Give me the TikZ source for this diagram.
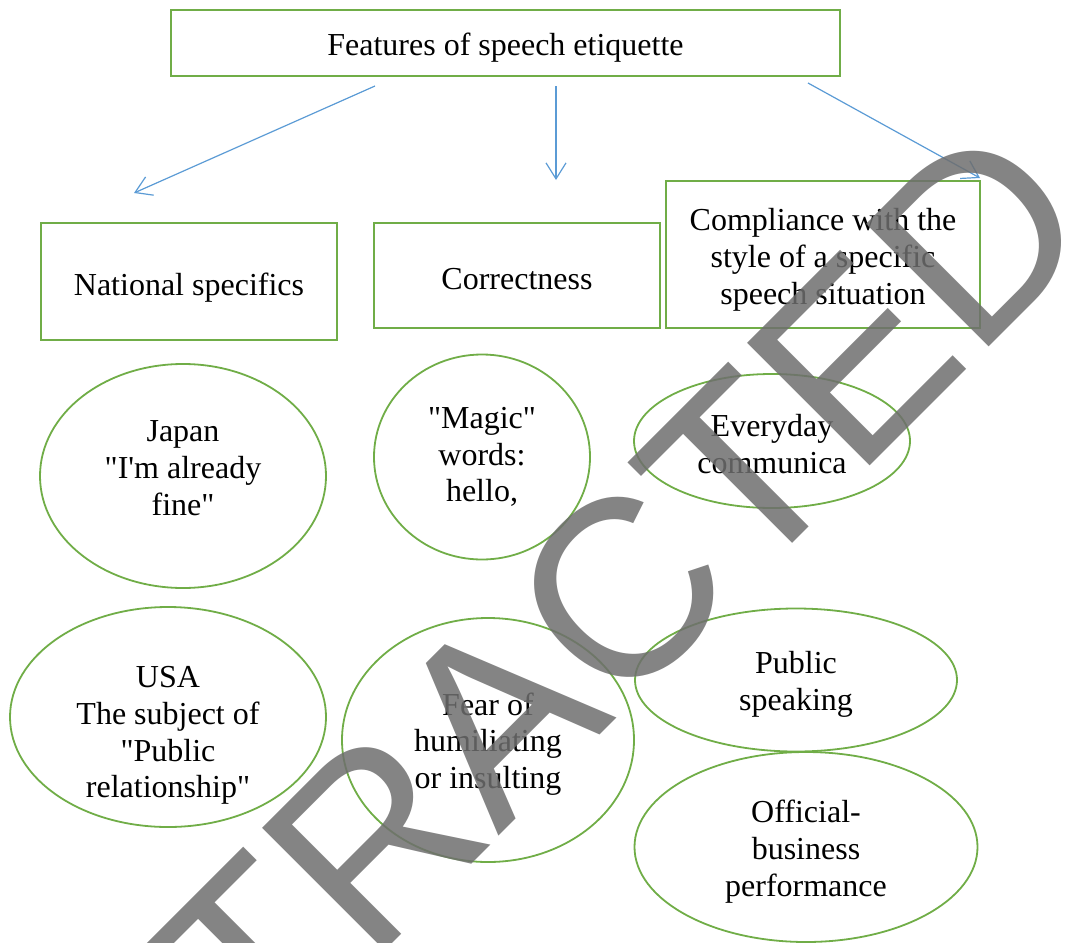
\documentclass[tikz,border=0pt]{standalone}
\usepackage{fontspec}
\usetikzlibrary{shapes.geometric,arrows.meta,positioning}
\newfontfamily\diagfont{Liberation Serif}
\newfontfamily\markfont{Liberation Sans}
\definecolor{leaf}{HTML}{70AD47}
\definecolor{sky}{HTML}{5B9BD5}

\begin{document}
\begin{tikzpicture}[x = 0.5pt, y = -0.5pt,
  box/.style = {draw = leaf, line width = 1.1pt, shape = rectangle},
  oval/.style = {draw = leaf, line width = 0.9pt, shape = ellipse, inner sep = 0pt},
  words/.style = {align = center, inner sep = 0pt, font = \diagfont\fontsize{16}{18.4}\selectfont},
  link/.style = {draw = sky, line width = 0.6pt, -{Straight Barb[length = 8pt, width = 10pt]}}]
\useasboundingbox (0,0) rectangle (1081,942);

% heading and the three kinds of features
\node[box, minimum width = 334.5pt, minimum height = 33pt] (features) at (505.5,43) {};
\node[box, minimum width = 148pt, minimum height = 58.5pt] (national) at (189,281.5) {};
\node[box, minimum width = 143pt, minimum height = 52.5pt] (correct) at (517,275.5) {};
\node[box, minimum width = 157pt, minimum height = 73.5pt] (style) at (823,254.5) {};
\node[words, yshift = -2.5pt] (features text) at (features) {Features of speech etiquette};
\node[words, yshift = -3pt] (national text) at (national) {National specifics};
\node[words, yshift = -2pt] (correct text) at (correct) {Correctness};
\node[words, yshift = -2.5pt] (style text) at (style) {Compliance with the\\style of a specific\\speech situation};

% examples
\node[oval, minimum width = 143pt, minimum height = 112pt] (japan) at (183,476) {};
\node[oval, minimum width = 108pt, minimum height = 102.5pt] (magic) at (482,457) {};
\node[oval, minimum width = 138pt, minimum height = 67pt] (everyday) at (772,441) {};
\node[oval, minimum width = 158pt, minimum height = 110pt] (usa) at (168,717) {};
\node[oval, minimum width = 146pt, minimum height = 122pt] (fear) at (488,740) {};
\node[oval, minimum width = 161pt, minimum height = 71.5pt] (public) at (796,680) {};
\node[oval, minimum width = 171.5pt, minimum height = 95pt] (official) at (806,847) {};
\node[words, yshift = 4pt] (japan text) at (japan) {Japan\\"I'm already\\fine"};
\node[words] (magic text) at (magic) {"Magic"\\words:\\hello,};
\node[words, yshift = -1.5pt] (everyday text) at (everyday) {Everyday\\communica};
\node[words, yshift = -9.3pt] (usa text) at (usa) {USA\\The subject of\\"Public\\relationship"};
\node[words, yshift = -2pt] (fear text) at (fear) {Fear of\\humiliating\\or insulting};
\node[words, yshift = -2pt] (public text) at (public) {Public\\speaking};
\node[words, yshift = -2.2pt] (official text) at (official) {Official-\\business\\performance};

\coordinate (from1) at (375,86);
\coordinate (to1) at (134,193);
\coordinate (from2) at (556,86);
\coordinate (to2) at (556,180);
\coordinate (from3) at (808,83);
\coordinate (to3) at (980,178);
\draw[link] (from1) -- (to1);
\draw[link] (from2) -- (to2);
\draw[link] (from3) -- (to3);

\begin{scope}
\clip (0,0) rectangle (1081,942);
\node[font = \markfont\fontsize{126}{126}\selectfont, text = black!57, text opacity = 0.85, inner sep = 0pt, rotate = 45] (stamp) at (497,716) {RETRACTED};
\end{scope}
\end{tikzpicture}
\end{document}
